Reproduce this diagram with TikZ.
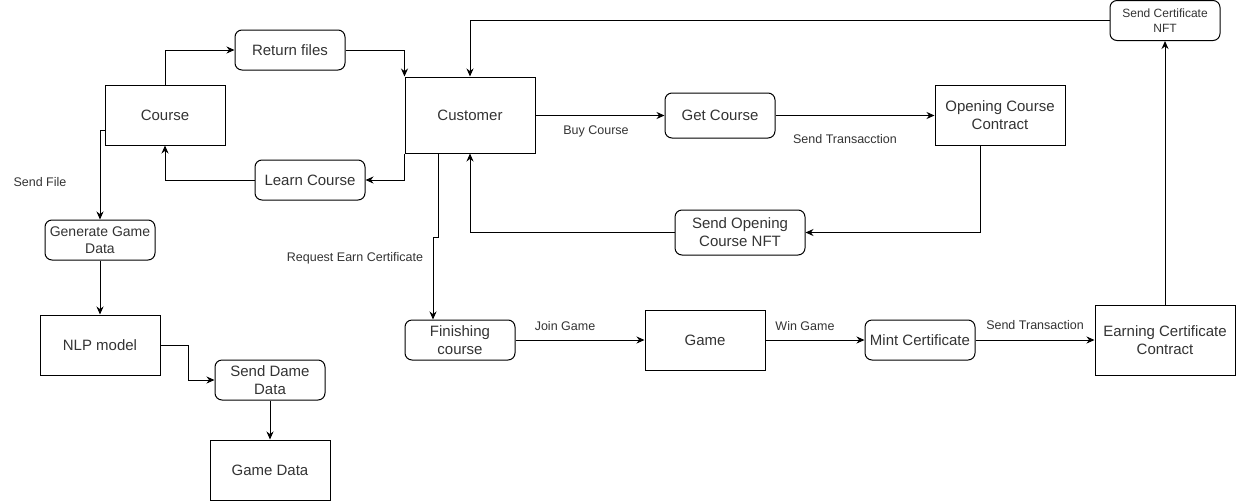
\documentclass[tikz,border=0pt]{standalone}
\usepackage{fontspec}
\setmainfont{Liberation Sans}
\usetikzlibrary{arrows.meta}
\begin{document}
\begin{tikzpicture}[x=1pt, y=-1pt]
        \tikzset{boxes/.style={draw, line width=1pt, minimum width=120pt, minimum height=60pt, inner sep=2pt, align=center, text=black!80, font=\fontsize{15}{18}\selectfont},
                 rounds/.style={boxes, rounded corners=7pt, minimum width=110pt, minimum height=40pt},
                 arr/.style={-{Stealth[length=8pt, width=7pt]}, line width=1pt},
                 lbl/.style={text=black!80, font=\fontsize{12.5}{15}\selectfont}}
        \useasboundingbox (0,0) rectangle (1236,501);
        \node [boxes]  (course)   at (165,115)  {Course};
        \node [rounds] (ret)      at (290,50)   {Return files};
        \node [rounds] (learn)    at (310,180)  {Learn Course};
        \node [boxes, minimum width=130pt, minimum height=76pt] (customer) at (470,115) {Customer};
        \node [rounds, minimum height=45pt] (getc) at (720,115.5) {Get Course};
        \node [boxes, minimum width=130pt] (occ) at (1000,115) {Opening Course\\Contract};
        \node [rounds, minimum width=130pt, minimum height=45pt] (sonft) at (740,232.5) {Send Opening\\Course NFT};
        \node [rounds, font=\fontsize{12}{15}\selectfont] (scnft) at (1165,20.5) {Send Certificate\\NFT};
        \node [rounds, font=\fontsize{14}{17}\selectfont] (gen) at (100,240) {Generate Game\\Data};
        \node [boxes]  (nlp)      at (100,345)  {NLP model};
        \node [rounds] (dame)     at (270,380)  {Send Dame\\Data};
        \node [boxes]  (gamedata) at (270,470)  {Game Data};
        \node [rounds] (fin)      at (460,340)  {Finishing\\course};
        \node [boxes]  (game)     at (705,340)  {Game};
        \node [rounds] (mint)     at (920,340)  {Mint Certificate};
        \node [boxes, minimum width=140pt, minimum height=70pt] (earn) at (1165,340) {Earning Certificate\\Contract};
        % left part
        \draw [arr] (course.north) |- (ret.west);
        \draw [arr] (ret.east) -| (customer.north west);
        \draw [arr] (customer.south west) |- (learn.east);
        \draw [arr] (learn.west) -| (course.south);
        \draw [arr] ([yshift=-15pt]course.west) -| node [lbl, pos=0.79, xshift=-60pt] {Send File} (gen.north);
        \draw [arr] (gen) -- (nlp);
        \draw [arr] (nlp.east) -- ++(28,0) |- (dame.west);
        \draw [arr] (dame) -- (gamedata);
        % buying a course
        \draw [arr] (customer.east |- getc.west) -- node [lbl, xshift=-4pt, yshift=-16pt] {Buy Course} (getc.west);
        \draw [arr] (getc.east) -- node [lbl, xshift=-10pt, yshift=-24pt] {Send Transacction} (occ.west |- getc.east);
        \draw [arr] ([xshift=-20pt]occ.south) |- (sonft.east);
        \draw [arr] (sonft.west) -| (customer.south);
        % earning the certificate
        \draw [arr] ([xshift=-32pt]customer.south) -- ++(0,84) -| node [lbl, pos=0.61, xshift=-78pt, yshift=-3pt] {Request Earn Certificate} ([xshift=-27pt]fin.north);
        \draw [arr] (fin) -- node [lbl, xshift=-15pt, yshift=14pt] {Join Game} (game);
        \draw [arr] (game) -- node [lbl, xshift=-10pt, yshift=14pt] {Win Game} (mint);
        \draw [arr] (mint) -- node [lbl, yshift=15pt] {Send Transaction} (earn);
        \draw [arr] (earn) -- (scnft);
        \draw [arr] (scnft.west) -| (customer.north);
    \end{tikzpicture}
\end{document}
